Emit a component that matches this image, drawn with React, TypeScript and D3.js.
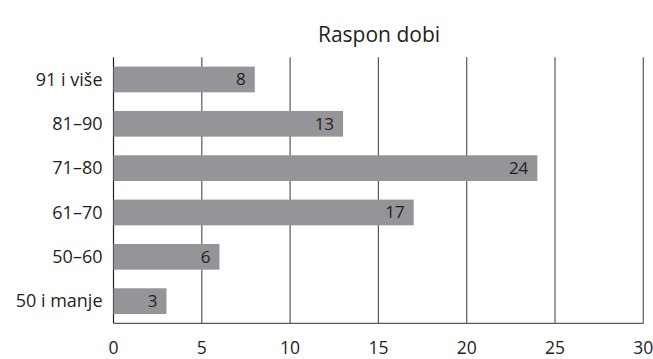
import React from "react";
import * as d3 from "d3";

const categories = ["91 i više", "81–90", "71–80", "61–70", "50–60", "50 i manje"];
const values = [8, 13, 24, 17, 6, 3];
const xTicks = [0, 5, 10, 15, 20, 25, 30];
const title = "Raspon dobi";

const W = 653;
const H = 359;
const m = { left: 113.5, right: 9.7, top: 57.3, bottom: 35.7 };
const font = "'Open Sans', sans-serif";

export default function App() {
  const x = d3.scaleLinear().domain([0, 30]).range([m.left, W - m.right]);
  const y = d3
    .scaleBand<string>()
    .domain(categories)
    .range([m.top, H - m.bottom])
    .paddingInner(0.42)
    .paddingOuter(0.21);
  const baseY = H - m.bottom;
  return (
    <svg width={W} height={H} style={{ position: "absolute", left: 0, top: 0 }}>
      <rect width={W} height={H} fill="#fff" />
      <text x={379} y={42} textAnchor="middle" fontFamily={font} fontSize={21} fill="#231f20">
        {title}
      </text>
      {xTicks.map((t) => (
        <g key={t}>
          <line x1={x(t)} x2={x(t)} y1={m.top} y2={baseY} stroke={t === 0 ? "#231f20" : "#58595b"} strokeWidth={1.2} />
          <text x={x(t)} y={354} textAnchor="middle" fontFamily={font} fontSize={17.5} fill="#231f20">
            {t}
          </text>
        </g>
      ))}
      <line x1={m.left} x2={x(30)} y1={baseY} y2={baseY} stroke="#58595b" strokeWidth={1.2} />
      {categories.map((c, i) => (
        <g key={c}>
          <rect x={x(0)} y={y(c)!} width={x(values[i]) - x(0)} height={y.bandwidth()} fill="#939598" />
          <text
            x={x(values[i]) - 9}
            y={y(c)! + y.bandwidth() / 2}
            dy="0.35em"
            textAnchor="end"
            fontFamily={font}
            fontSize={17}
            fill="#231f20"
          >
            {values[i]}
          </text>
          <text
            x={m.left - 11}
            y={y(c)! + y.bandwidth() / 2}
            dy="0.35em"
            textAnchor="end"
            fontFamily={font}
            fontSize={18}
            fill="#231f20"
          >
            {c}
          </text>
        </g>
      ))}
    </svg>
  );
}
